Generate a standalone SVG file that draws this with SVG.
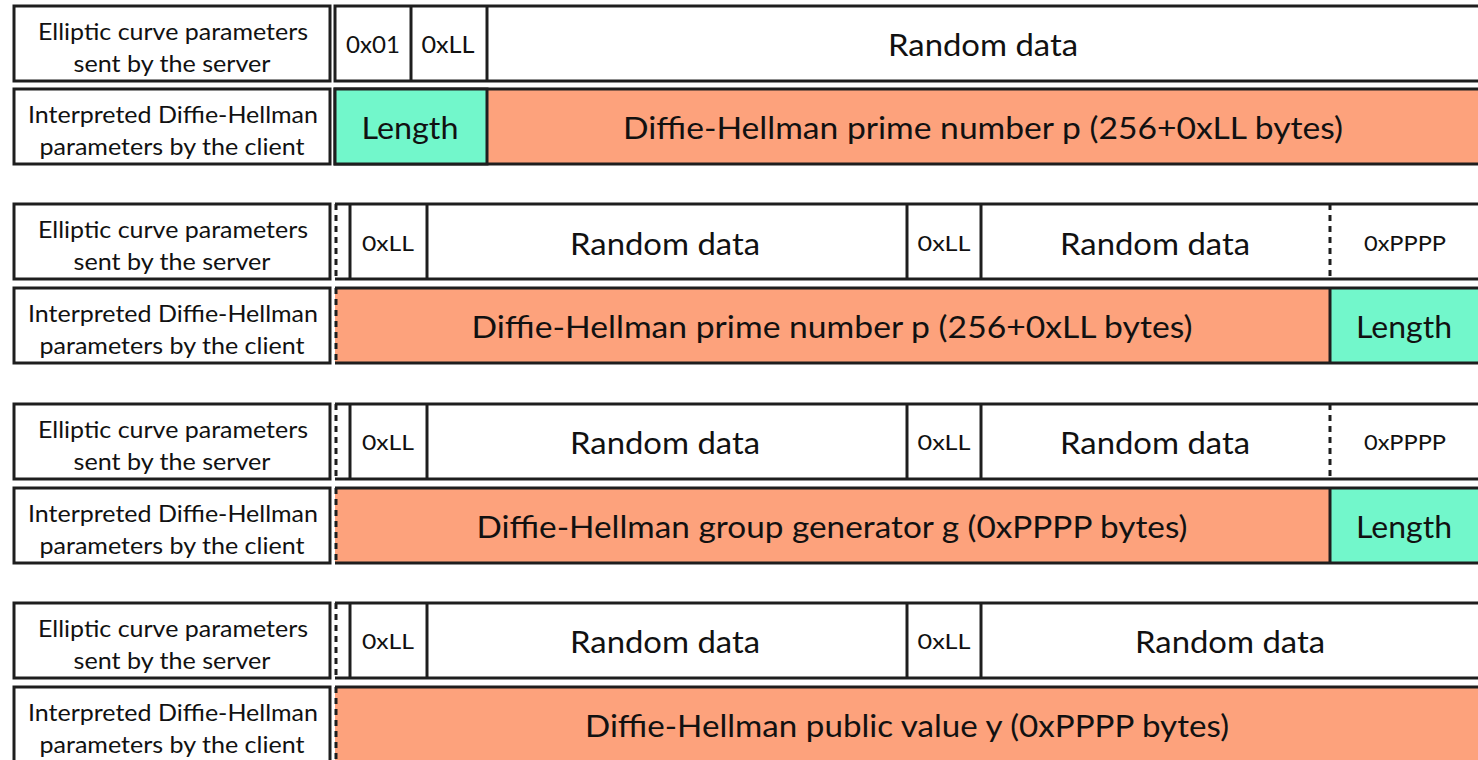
<svg xmlns="http://www.w3.org/2000/svg" width="1478" height="760" viewBox="0 0 1478 760">
<style>
  .box{stroke:#1e1e1e;stroke-width:3}
  .w{fill:#ffffff}
  .o{fill:#FDA27C}
  .t{fill:#72F7CB}
  .ln{stroke:#1e1e1e;stroke-width:3;fill:none}
  .dash{stroke:#1e1e1e;stroke-width:3;stroke-dasharray:6 5;fill:none}
  text{font-family:Lato,"Open Sans","DejaVu Sans",sans-serif;fill:#111;text-anchor:middle;dominant-baseline:central}
  .lbl{font-size:23px}
  .big{font-size:31px}
  .mid{font-size:23px}
  .sm{font-size:22px}
  .xs{font-size:21px}
</style>
<rect x="0" y="0" width="1478" height="760" fill="#ffffff"/>

<!-- Group 1 -->
<g id="g1">
  <g id="g1-label1"><rect class="box w" x="14" y="6" width="316" height="75"/>
    <text class="lbl" x="173" y="31" textLength="270" lengthAdjust="spacingAndGlyphs">Elliptic curve parameters</text><text class="lbl" x="172" y="63" textLength="197" lengthAdjust="spacingAndGlyphs">sent by the server</text></g>
  <g id="g1-label2"><rect class="box w" x="14" y="89" width="316" height="75"/>
    <text class="lbl" x="173" y="114" textLength="290" lengthAdjust="spacingAndGlyphs">Interpreted Diffie-Hellman</text><text class="lbl" x="172" y="146" textLength="265" lengthAdjust="spacingAndGlyphs">parameters by the client</text></g>
  <g id="g1-server">
    <rect class="box w" x="335" y="6" width="1160" height="75"/>
    <line class="ln" x1="411" y1="6" x2="411" y2="81"/>
    <line class="ln" x1="487" y1="6" x2="487" y2="81"/>
    <text class="mid" x="373" y="44" textLength="54" lengthAdjust="spacingAndGlyphs">0x01</text>
    <text class="mid" x="448" y="44" textLength="53" lengthAdjust="spacingAndGlyphs">0xLL</text>
    <text class="big" x="983" y="44" textLength="190" lengthAdjust="spacingAndGlyphs">Random data</text>
  </g>
  <g id="g1-client">
    <rect class="box o" x="335" y="89" width="1160" height="75"/>
    <rect class="box t" x="335" y="89" width="152" height="75"/>
    <text class="big" x="410" y="127" textLength="97" lengthAdjust="spacingAndGlyphs">Length</text>
    <text class="big" x="983" y="127" textLength="720" lengthAdjust="spacingAndGlyphs">Diffie-Hellman prime number p (256+0xLL bytes)</text>
  </g>
</g>

<!-- Group 2 -->
<g id="g2">
  <g id="g2-label1"><rect class="box w" x="14" y="204" width="316" height="75"/>
    <text class="lbl" x="173" y="229" textLength="270" lengthAdjust="spacingAndGlyphs">Elliptic curve parameters</text><text class="lbl" x="172" y="261" textLength="197" lengthAdjust="spacingAndGlyphs">sent by the server</text></g>
  <g id="g2-label2"><rect class="box w" x="14" y="288" width="316" height="75"/>
    <text class="lbl" x="173" y="313" textLength="290" lengthAdjust="spacingAndGlyphs">Interpreted Diffie-Hellman</text><text class="lbl" x="172" y="345" textLength="265" lengthAdjust="spacingAndGlyphs">parameters by the client</text></g>
  <g id="g2-server">
    <rect class="w" x="335" y="204" width="1160" height="75"/>
    <line class="ln" x1="335" y1="204" x2="1495" y2="204"/>
    <line class="ln" x1="335" y1="279" x2="1495" y2="279"/>
    <line class="dash" x1="336" y1="204" x2="336" y2="279"/>
    <line class="ln" x1="350" y1="204" x2="350" y2="279"/>
    <line class="ln" x1="427" y1="204" x2="427" y2="279"/>
    <line class="ln" x1="907" y1="204" x2="907" y2="279"/>
    <line class="ln" x1="981" y1="204" x2="981" y2="279"/>
    <line class="dash" x1="1330" y1="204" x2="1330" y2="279"/>
    <text class="sm" x="388" y="242" textLength="52" lengthAdjust="spacingAndGlyphs">0xLL</text>
    <text class="big" x="665" y="243" textLength="190" lengthAdjust="spacingAndGlyphs">Random data</text>
    <text class="sm" x="944" y="242" textLength="53" lengthAdjust="spacingAndGlyphs">0xLL</text>
    <text class="big" x="1155" y="243" textLength="190" lengthAdjust="spacingAndGlyphs">Random data</text>
    <text class="xs" x="1405" y="242" textLength="82" lengthAdjust="spacingAndGlyphs">0xPPPP</text>
  </g>
  <g id="g2-client">
    <rect class="o" x="335" y="288" width="995" height="75"/>
    <rect class="t" x="1330" y="288" width="165" height="75"/>
    <line class="ln" x1="335" y1="288" x2="1495" y2="288"/>
    <line class="ln" x1="335" y1="363" x2="1495" y2="363"/>
    <line class="dash" x1="336" y1="288" x2="336" y2="363"/>
    <line class="ln" x1="1330" y1="288" x2="1330" y2="363"/>
    <text class="big" x="832" y="326" textLength="721" lengthAdjust="spacingAndGlyphs">Diffie-Hellman prime number p (256+0xLL bytes)</text>
    <text class="big" x="1404" y="326" textLength="96" lengthAdjust="spacingAndGlyphs">Length</text>
  </g>
</g>

<!-- Group 3 -->
<g id="g3">
  <g id="g3-label1"><rect class="box w" x="14" y="404" width="316" height="75"/>
    <text class="lbl" x="173" y="429" textLength="270" lengthAdjust="spacingAndGlyphs">Elliptic curve parameters</text><text class="lbl" x="172" y="461" textLength="197" lengthAdjust="spacingAndGlyphs">sent by the server</text></g>
  <g id="g3-label2"><rect class="box w" x="14" y="488" width="316" height="75"/>
    <text class="lbl" x="173" y="513" textLength="290" lengthAdjust="spacingAndGlyphs">Interpreted Diffie-Hellman</text><text class="lbl" x="172" y="545" textLength="265" lengthAdjust="spacingAndGlyphs">parameters by the client</text></g>
  <g id="g3-server">
    <rect class="w" x="335" y="404" width="1160" height="75"/>
    <line class="ln" x1="335" y1="404" x2="1495" y2="404"/>
    <line class="ln" x1="335" y1="479" x2="1495" y2="479"/>
    <line class="dash" x1="336" y1="404" x2="336" y2="479"/>
    <line class="ln" x1="350" y1="404" x2="350" y2="479"/>
    <line class="ln" x1="427" y1="404" x2="427" y2="479"/>
    <line class="ln" x1="907" y1="404" x2="907" y2="479"/>
    <line class="ln" x1="981" y1="404" x2="981" y2="479"/>
    <line class="dash" x1="1330" y1="404" x2="1330" y2="479"/>
    <text class="sm" x="388" y="441" textLength="52" lengthAdjust="spacingAndGlyphs">0xLL</text>
    <text class="big" x="665" y="442" textLength="190" lengthAdjust="spacingAndGlyphs">Random data</text>
    <text class="sm" x="944" y="441" textLength="53" lengthAdjust="spacingAndGlyphs">0xLL</text>
    <text class="big" x="1155" y="442" textLength="190" lengthAdjust="spacingAndGlyphs">Random data</text>
    <text class="xs" x="1405" y="441" textLength="82" lengthAdjust="spacingAndGlyphs">0xPPPP</text>
  </g>
  <g id="g3-client">
    <rect class="o" x="335" y="488" width="995" height="75"/>
    <rect class="t" x="1330" y="488" width="165" height="75"/>
    <line class="ln" x1="335" y1="488" x2="1495" y2="488"/>
    <line class="ln" x1="335" y1="563" x2="1495" y2="563"/>
    <line class="dash" x1="336" y1="488" x2="336" y2="563"/>
    <line class="ln" x1="1330" y1="488" x2="1330" y2="563"/>
    <text class="big" x="832" y="526" textLength="711" lengthAdjust="spacingAndGlyphs">Diffie-Hellman group generator g (0xPPPP bytes)</text>
    <text class="big" x="1404" y="526" textLength="96" lengthAdjust="spacingAndGlyphs">Length</text>
  </g>
</g>

<!-- Group 4 -->
<g id="g4">
  <g id="g4-label1"><rect class="box w" x="14" y="603" width="316" height="75"/>
    <text class="lbl" x="173" y="628" textLength="270" lengthAdjust="spacingAndGlyphs">Elliptic curve parameters</text><text class="lbl" x="172" y="660" textLength="197" lengthAdjust="spacingAndGlyphs">sent by the server</text></g>
  <g id="g4-label2"><rect class="box w" x="14" y="687" width="316" height="75"/>
    <text class="lbl" x="173" y="712" textLength="290" lengthAdjust="spacingAndGlyphs">Interpreted Diffie-Hellman</text><text class="lbl" x="172" y="744" textLength="265" lengthAdjust="spacingAndGlyphs">parameters by the client</text></g>
  <g id="g4-server">
    <rect class="w" x="335" y="603" width="1160" height="75"/>
    <line class="ln" x1="335" y1="603" x2="1495" y2="603"/>
    <line class="ln" x1="335" y1="678" x2="1495" y2="678"/>
    <line class="dash" x1="336" y1="603" x2="336" y2="678"/>
    <line class="ln" x1="350" y1="603" x2="350" y2="678"/>
    <line class="ln" x1="427" y1="603" x2="427" y2="678"/>
    <line class="ln" x1="907" y1="603" x2="907" y2="678"/>
    <line class="ln" x1="981" y1="603" x2="981" y2="678"/>
    <text class="sm" x="388" y="640" textLength="52" lengthAdjust="spacingAndGlyphs">0xLL</text>
    <text class="big" x="665" y="641" textLength="190" lengthAdjust="spacingAndGlyphs">Random data</text>
    <text class="sm" x="944" y="640" textLength="53" lengthAdjust="spacingAndGlyphs">0xLL</text>
    <text class="big" x="1230" y="641" textLength="190" lengthAdjust="spacingAndGlyphs">Random data</text>
  </g>
  <g id="g4-client">
    <rect class="o" x="335" y="687" width="1160" height="75"/>
    <line class="ln" x1="335" y1="687" x2="1495" y2="687"/>
    <line class="dash" x1="336" y1="687" x2="336" y2="762"/>
    <text class="big" x="907" y="725" textLength="644" lengthAdjust="spacingAndGlyphs">Diffie-Hellman public value y (0xPPPP bytes)</text>
  </g>
</g>
</svg>
